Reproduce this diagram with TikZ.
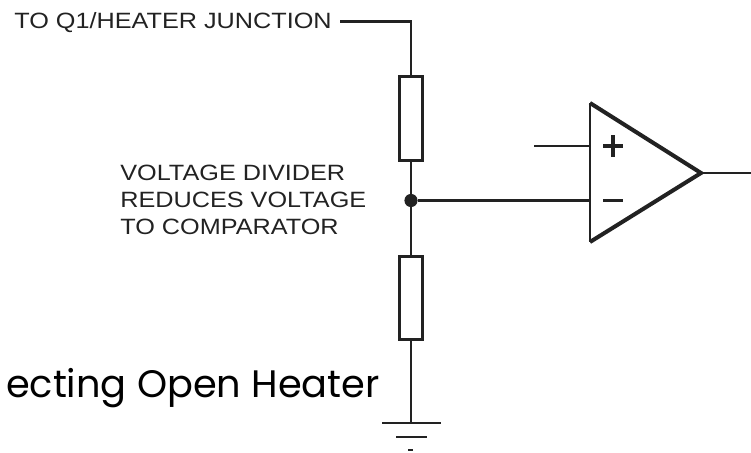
\documentclass[tikz,border=0pt]{standalone}
\usepackage{fontspec}
\setmainfont{Liberation Sans}
\newfontfamily\notefont[FakeStretch=1.14]{Liberation Sans}
\newfontfamily\titlefont{Poppins}
\usepackage{tikz}
\definecolor{inkdark}{HTML}{222222}
\tikzset{
  wire/.style = {draw=inkdark, line width=1.7pt},
  resistor/.style = {draw=inkdark, line width=1.6pt, fill=white, minimum width=4.6mm, minimum height=16.7mm, inner sep=0pt},
  note/.style = {text=inkdark, font=\notefont\fontsize{12.6}{15.3}\selectfont, align=left, inner sep=0pt},
}
\begin{document}
\begin{tikzpicture}[x=0.02cm, y=-0.02cm]
  \useasboundingbox (0,0) rectangle (751,453);
  \node[note, anchor=base west] (feed) at (14,28.5) {TO Q1/HEATER JUNCTION};
  \node[note, anchor=west] (divider) at (120,200) {VOLTAGE DIVIDER\\REDUCES VOLTAGE\\TO COMPARATOR};
  \node[font=\titlefont\fontsize{21.8}{26}\selectfont, anchor=base east, inner sep=0pt] (caption) at (380,397) {ecting Open Heater};
  \coordinate (start) at (340,21.5);
  \coordinate (corner) at (411,21.5);
  \node[resistor] (upper) at (411,118.5) {};
  \node[resistor] (lower) at (411,298) {};
  \node[circle, fill=inkdark, minimum size=7.5pt, inner sep=0pt] (tap) at (411,200.5) {};
  \coordinate (gnd) at (411,423);
  % comparator
  \coordinate (top) at (590,103);
  \coordinate (bottom) at (590,242);
  \coordinate (tip) at (701,173);
  \coordinate (plusin) at (534,146);
  \coordinate (plusend) at (590,146);
  \coordinate (minusend) at (590,200.5);
  \coordinate (out) at (751,173);
  \draw[wire] (start) -- (corner) -- (upper.north);
  \draw[wire] (upper.south) -- (tap);
  \draw[wire] (tap) -- (lower.north);
  \draw[wire] (lower.south) -- (gnd);
  \draw[wire] (tap) -- (minusend);
  \draw[wire] (plusin) -- (plusend);
  \draw[wire] (tip) -- (out);
  \draw[wire, line width=1.5pt] (top) -- (bottom);
  \draw[wire, line width=2.3pt, line join=miter] (bottom) -- (tip) -- (top);
  \draw[wire, line width=1.9pt] (603,146) -- (623,146) (613,135) -- (613,157);
  \draw[wire, line width=1.9pt] (603,200.5) -- (623,200.5);
  % ground
  \draw[wire] (382,423) -- (441,423);
  \draw[wire] (396,437) -- (427,437);
  \draw[wire] (408,450) -- (413,450);
\end{tikzpicture}
\end{document}
